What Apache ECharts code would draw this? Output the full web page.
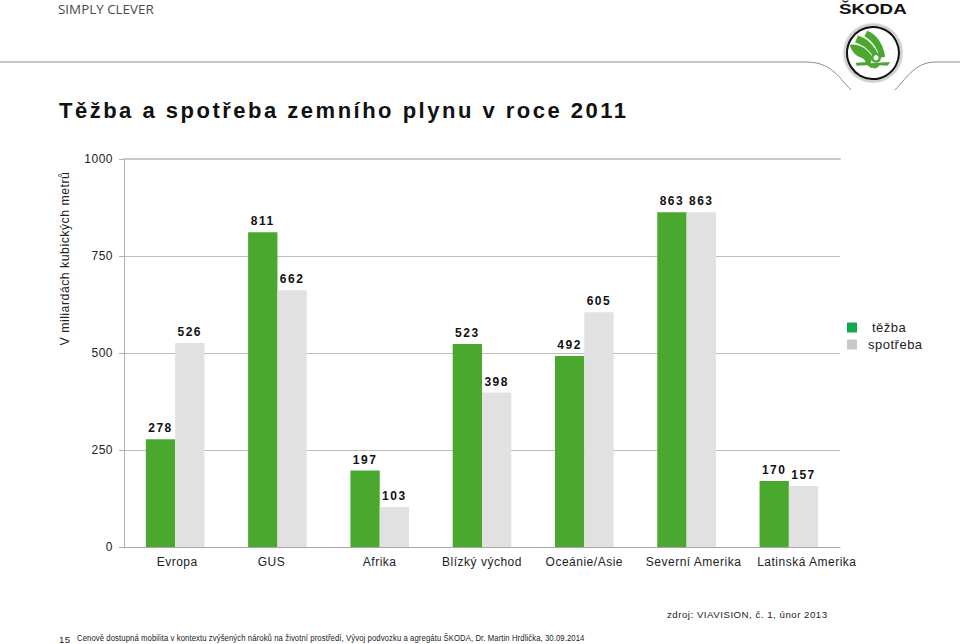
<!DOCTYPE html>
<html>
<head>
<meta charset="utf-8">
<style>
html,body{margin:0;padding:0;background:#fff}
#c{width:960px;height:644px}
#c text{letter-spacing:.5px}
#c text[style*="22px"]{letter-spacing:2.5px}
#c text[style*="12px"][style*="bold"]{letter-spacing:1.5px}
#c text[style*="9.5px"]{letter-spacing:.1px}
#c text[style*="13.4px"]{letter-spacing:0}
#c text[style*="15px"]{letter-spacing:0}
</style>
<script src="https://cdn.jsdelivr.net/npm/echarts@6/dist/echarts.min.js"></script>
</head>
<body>
<div id="c"></div>
<script>
const categories = ['Evropa','GUS','Afrika','Blízký východ','Oceánie/Asie','Severní Amerika','Latinská Amerika'];
const tezba = [278,811,197,523,492,863,170];
const spotreba = [526,662,103,398,605,863,157];
const yTicks = [0,250,500,750,1000];
const seriesNames = ['těžba','spotřeba'];
const titleText = 'Těžba a spotřeba zemního plynu v roce 2011';
const yName = 'V miliardách kubických metrů';
const sourceText = 'zdroj: VIAVISION, č. 1, únor 2013';
const footerText = 'Cenově dostupná mobilita v kontextu zvýšených nároků na životní prostředí, Vývoj podvozku a agregátu ŠKODA, Dr. Martin Hrdlička, 30.09.2014';
const F = '"Liberation Sans", Arial, sans-serif';
const GREEN = '#4ba82e', GRAY = '#e1e1e1';

echarts.graphic.registerShape('headL', echarts.graphic.extendPath('M0,62 L806,62 C830,62 838,76 851,90', {}));
echarts.graphic.registerShape('headR', echarts.graphic.extendPath('M895,90 C908,76 916,62 936,62 L960,62', {}));
echarts.graphic.registerShape('wing', echarts.graphic.extendPath('M112,48 C140,58 160,88 165,125 L150,128 C143,100 128,78 104,64 Z M84,62 C112,70 133,92 146,122 L130,125 C118,104 100,90 76,82 Z M60,90 C88,86 114,102 126,126 L122,145 L180,142 L172,152 L150,150 L138,160 L122,158 L112,150 L80,152 L78,144 L108,142 C106,132 95,128 82,122 C72,116 63,104 60,90 Z', {}));

const chart = echarts.init(document.getElementById('c'), null, {renderer:'svg', width:960, height:644});
const lbl = {show:true, position:'top', distance:5, color:'#111', fontFamily:F, fontSize:12, fontWeight:'bold'};
const txt = (x,y,text,size,color,extra) => ({type:'text', x, y, silent:true,
  style:Object.assign({text, fontFamily:F, fontSize:size, fill:color, verticalAlign:'middle'}, extra||{})});
const catBase = {color:'#222', fontFamily:F, fontSize:12};

chart.setOption({
  animation:false,
  backgroundColor:'#fff',
  grid:{left:124, right:120, top:159, bottom:97, containLabel:false},
  legend:{
    orient:'vertical', left:847, top:321, itemWidth:10, itemHeight:10, itemGap:4, padding:0,
    icon:'rect', selectedMode:false,
    formatter:n => n === seriesNames[0] ? '{a|' + n + '}' : n,
    textStyle:{fontFamily:F, fontSize:13, color:'#222', padding:[0,0,0,6],
      rich:{a:{fontFamily:F, fontSize:13, color:'#222', padding:[0,0,0,4]}}},
    data:[{name:seriesNames[0], itemStyle:{color:'#12a84f'}},{name:seriesNames[1], itemStyle:{color:'#c9c9c9'}}]
  },
  xAxis:[
    {type:'category', data:categories, position:'bottom',
     axisTick:{show:false}, axisLine:{lineStyle:{color:'#a8a8a8',width:1}},
     axisLabel:Object.assign({}, catBase, {margin:9, interval:0,
       formatter:(v,i) => '{c' + i + '|' + v + '}',
       rich:{
         c0:Object.assign({}, catBase, {padding:[0,0,0,4]}),
         c1:Object.assign({}, catBase, {padding:[0,12,0,0]}),
         c2:Object.assign({}, catBase),
         c3:Object.assign({}, catBase),
         c4:Object.assign({}, catBase),
         c5:Object.assign({}, catBase, {padding:[0,0,0,14]}),
         c6:Object.assign({}, catBase, {padding:[0,0,0,36]})
       }})},
    {type:'category', data:categories, position:'top',
     axisTick:{show:false}, axisLabel:{show:false}, axisLine:{lineStyle:{color:'#c8c8c8',width:2}}}
  ],
  yAxis:{type:'value', min:yTicks[0], max:yTicks[yTicks.length-1], interval:250,
    axisLine:{show:true, lineStyle:{color:'#b0b0b0'}},
    axisTick:{show:true, length:5, lineStyle:{color:'#b0b0b0'}},
    splitLine:{show:true, showMaxLine:false, lineStyle:{color:'#bdbdbd',width:1}},
    axisLabel:{color:'#222', fontFamily:F, fontSize:12, margin:11, formatter:v => String(v)}},
  series:[
    {name:seriesNames[0], type:'bar', data:tezba, barWidth:29.3, barGap:0, itemStyle:{color:GREEN}, label:lbl, z:3},
    {name:seriesNames[1], type:'bar', data:spotreba, barWidth:29.3, barGap:0, itemStyle:{color:GRAY}, label:lbl, z:3}
  ],
  graphic:[
    {type:'headL', silent:true, style:{fill:null, stroke:'#8a8a8a', lineWidth:1}},
    {type:'headR', silent:true, style:{fill:null, stroke:'#8a8a8a', lineWidth:1}},
    txt(58,9,'SIMPLY CLEVER',13.4,'#4a4a4a',{fontFamily:'"Open Sans", sans-serif'}),
    {type:'text', x:839, y:9, silent:true, scaleX:1.25, style:{text:'ŠKODA', fontFamily:F, fontSize:15, fontWeight:'bold', fill:'#111', verticalAlign:'middle'}},
    {type:'circle', silent:true, shape:{cx:873,cy:53,r:30}, style:{fill:'#d0d0d0', stroke:'#efefef', lineWidth:1}},
    {type:'circle', silent:true, shape:{cx:873,cy:53,r:26}, style:{fill:'#fff', stroke:'#111', lineWidth:2}},
    {type:'wing', silent:true, x:830, y:15, scaleX:1/3, scaleY:1/3, style:{fill:'#4ba82e', stroke:'#3d9a2a', lineWidth:1}},
    {type:'circle', silent:true, shape:{cx:876,cy:57.7,r:5}, style:{fill:'#4ba82e'}},
    {type:'circle', silent:true, shape:{cx:876,cy:57.7,r:2.6}, style:{fill:'#fff'}},
    txt(59,110,titleText,22,'#111',{fontWeight:'bold'}),
    {type:'text', x:65, y:258.5, rotation:Math.PI/2, silent:true,
     style:{text:yName, fontFamily:F, fontSize:12.3, fill:'#222', align:'center', verticalAlign:'middle'}},
    txt(667,614,sourceText,9.7,'#222'),
    txt(59,639,'15',9.6,'#222'),
    {type:'text', x:77, y:638, scaleX:0.814, silent:true, style:{text:footerText, fontFamily:F, fontSize:9.5, fill:'#222', verticalAlign:'middle'}}
  ]
});
</script>
</body>
</html>
